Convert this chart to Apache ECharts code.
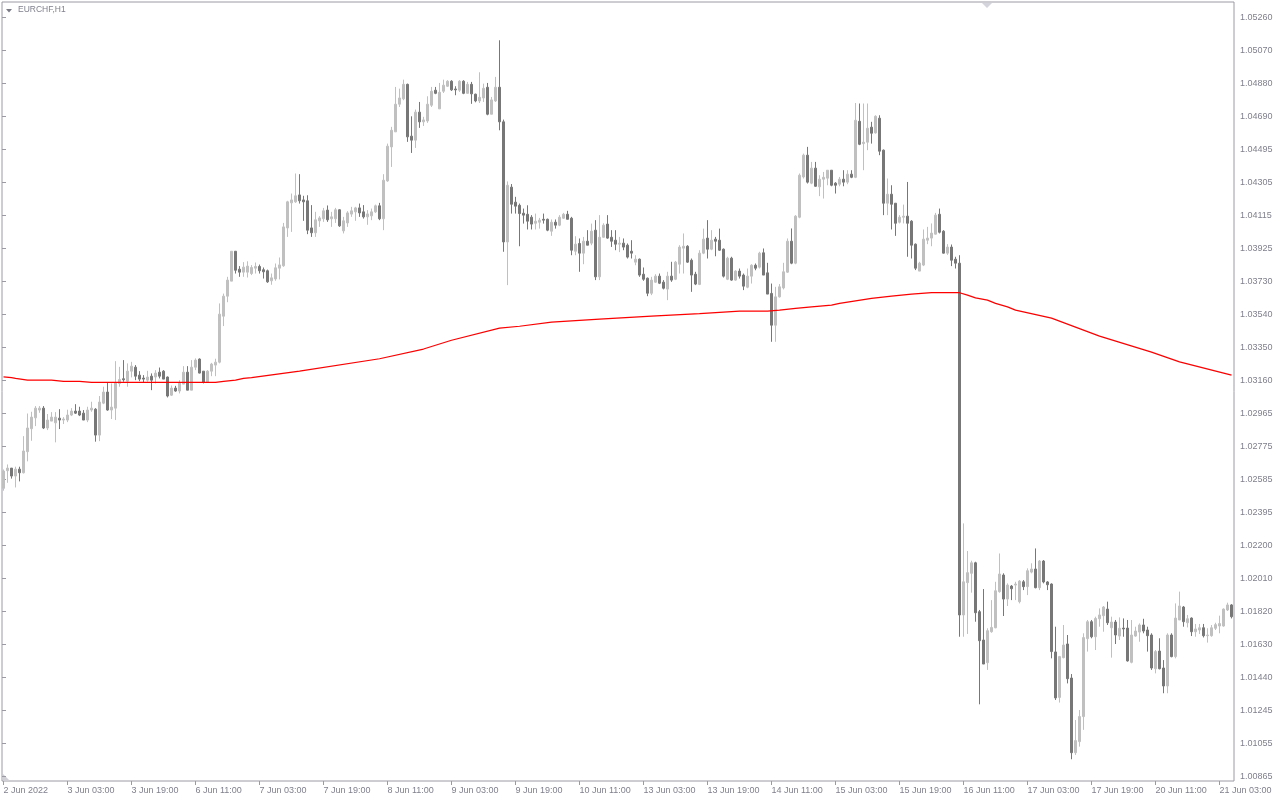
<!DOCTYPE html>
<html><head><meta charset="utf-8">
<script src="https://cdn.jsdelivr.net/npm/echarts@6.0.0/dist/echarts.min.js"></script>
<style>html,body{margin:0;padding:0;background:#fff}#c{width:1280px;height:800px}</style>
</head><body><div id="c"></div>
<script>
const symbolName = 'EURCHF,H1';
const tickLabels = ['2 Jun 2022','3 Jun 03:00','3 Jun 19:00','6 Jun 11:00','7 Jun 03:00','7 Jun 19:00','8 Jun 11:00','9 Jun 03:00','9 Jun 19:00','10 Jun 11:00','13 Jun 03:00','13 Jun 19:00','14 Jun 11:00','15 Jun 03:00','15 Jun 19:00','16 Jun 11:00','17 Jun 03:00','17 Jun 19:00','20 Jun 11:00','21 Jun 03:00'];
const yTickLabels = ['1.00865','1.01055','1.01245','1.01440','1.01630','1.01820','1.02010','1.02200','1.02395','1.02585','1.02775','1.02965','1.03160','1.03350','1.03540','1.03730','1.03925','1.04115','1.04305','1.04495','1.04690','1.04880','1.05070','1.05260'];

const opens = [
1.02534,1.02636,1.02651,1.02605,1.02645,1.02624,1.02746,1.02879,1.02942,1.02987,
1.02998,1.02883,1.02923,1.02913,1.02940,1.02929,1.02929,1.02958,1.02981,1.02981,
1.02969,1.02929,1.02987,1.02992,1.02842,1.03027,1.03091,1.02987,1.02998,1.03141,
1.03168,1.03154,1.03212,1.03235,1.03189,1.03172,1.03160,1.03183,1.03178,1.03206,
1.03212,1.03178,1.03073,1.03114,1.03097,1.03137,1.03206,1.03102,1.03235,1.03282,
1.03212,1.03149,1.03212,1.03247,1.03264,1.03530,1.03646,1.03733,1.03906,1.03802,
1.03785,1.03785,1.03777,1.03808,1.03818,1.03799,1.03793,1.03735,1.03746,1.03808,
1.03822,1.04041,1.04186,1.04192,1.04232,1.04203,1.04198,1.04041,1.04013,1.04082,
1.04094,1.04144,1.04094,1.04094,1.04146,1.04024,1.04070,1.04121,1.04134,1.04157,
1.04134,1.04105,1.04111,1.04134,1.04169,1.04094,1.04313,1.04510,1.04597,1.04757,
1.04788,1.04872,1.04572,1.04549,1.04711,1.04655,1.04660,1.04751,1.04838,1.04730,
1.04832,1.04861,1.04890,1.04845,1.04838,1.04890,1.04820,1.04872,1.04815,1.04776,
1.04793,1.04855,1.04699,1.04776,1.04855,1.04655,1.03960,1.04277,1.04190,1.04172,
1.04126,1.04120,1.04103,1.04068,1.04074,1.04091,1.04091,1.04022,1.04074,1.04057,
1.04097,1.04120,1.04097,1.03906,1.03951,1.03895,1.03964,1.03953,1.04028,1.03758,
1.03987,1.04063,1.03987,1.03970,1.03947,1.03953,1.03941,1.03906,1.03843,1.03860,
1.03773,1.03750,1.03663,1.03727,1.03762,1.03727,1.03687,1.03762,1.03744,1.03831,
1.03924,1.03935,1.03854,1.03773,1.03714,1.03895,1.03982,1.03918,1.03976,1.03970,
1.03918,1.03744,1.03866,1.03739,1.03791,1.03768,1.03698,1.03762,1.03825,1.03814,
1.03897,1.03781,1.03662,1.03478,1.03642,1.03694,1.03785,1.03964,1.03837,1.04103,
1.04336,1.04462,1.04300,1.04387,1.04279,1.04323,1.04329,1.04375,1.04300,1.04294,
1.04323,1.04306,1.04352,1.04334,1.04658,1.04529,1.04537,1.04624,1.04591,1.04676,
1.04491,1.04184,1.04236,1.04184,1.04074,1.04103,1.04109,1.04080,1.03947,1.03791,
1.03826,1.03970,1.03982,1.04005,1.04120,1.04022,1.03895,1.03930,1.03860,1.03837,
1.01801,1.01988,1.02042,1.02103,1.01820,1.01656,1.01525,1.01704,1.01727,1.01936,
1.02032,1.01893,1.01968,1.01974,1.01878,1.01993,1.01965,1.02049,1.02067,1.01959,
1.02113,1.01992,1.01980,1.01587,1.01324,1.01554,1.01633,1.01436,1.01004,1.01068,
1.01213,1.01664,1.01762,1.01675,1.01779,1.01797,1.01835,1.01727,1.01760,1.01679,
1.01725,1.01725,1.01527,1.01679,1.01702,1.01743,1.01714,1.01685,1.01490,1.01592,
1.01494,1.01390,1.01685,1.01560,1.01772,1.01847,1.01756,1.01783,1.01704,1.01714,
1.01727,1.01681,1.01681,1.01724,1.01737,1.01737,1.01830,1.01859];

const closes = [
1.02634,1.02651,1.02605,1.02645,1.02624,1.02750,1.02883,1.02946,1.02998,1.02998,
1.02883,1.02929,1.02946,1.02946,1.02929,1.02935,1.02958,1.02981,1.02969,1.02958,
1.02929,1.02987,1.02998,1.02842,1.03033,1.03091,1.02987,1.03004,1.03145,1.03164,
1.03162,1.03212,1.03241,1.03183,1.03166,1.03166,1.03178,1.03160,1.03201,1.03183,
1.03166,1.03068,1.03114,1.03097,1.03143,1.03206,1.03102,1.03235,1.03276,1.03201,
1.03149,1.03212,1.03253,1.03264,1.03542,1.03646,1.03739,1.03906,1.03796,1.03785,
1.03814,1.03820,1.03812,1.03818,1.03793,1.03787,1.03729,1.03752,1.03810,1.03827,
1.04047,1.04192,1.04203,1.04227,1.04198,1.04192,1.04028,1.04013,1.04088,1.04099,
1.04140,1.04088,1.04105,1.04146,1.04053,1.04082,1.04128,1.04140,1.04157,1.04128,
1.04105,1.04122,1.04134,1.04169,1.04094,1.04317,1.04514,1.04606,1.04757,1.04793,
1.04872,1.04568,1.04549,1.04711,1.04655,1.04666,1.04757,1.04832,1.04820,1.04826,
1.04867,1.04890,1.04840,1.04840,1.04890,1.04820,1.04872,1.04817,1.04776,1.04797,
1.04849,1.04699,1.04782,1.04855,1.04655,1.03960,1.04288,1.04178,1.04167,1.04124,
1.04115,1.04080,1.04063,1.04080,1.04086,1.04086,1.04028,1.04074,1.04057,1.04103,
1.04120,1.04091,1.03912,1.03947,1.03895,1.03964,1.03941,1.04022,1.03758,1.03987,
1.04057,1.03982,1.03964,1.03947,1.03953,1.03930,1.03872,1.03895,1.03860,1.03768,
1.03744,1.03663,1.03739,1.03762,1.03721,1.03692,1.03762,1.03739,1.03843,1.03930,
1.03935,1.03843,1.03768,1.03716,1.03895,1.03976,1.03918,1.03970,1.03964,1.03912,
1.03762,1.03866,1.03739,1.03791,1.03762,1.03704,1.03762,1.03825,1.03808,1.03895,
1.03768,1.03658,1.03478,1.03642,1.03700,1.03787,1.03964,1.03837,1.04109,1.04346,
1.04462,1.04306,1.04387,1.04282,1.04323,1.04334,1.04375,1.04288,1.04288,1.04323,
1.04306,1.04352,1.04334,1.04664,1.04525,1.04537,1.04618,1.04589,1.04687,1.04485,
1.04184,1.04236,1.04178,1.04068,1.04103,1.04109,1.04068,1.03941,1.03808,1.03837,
1.03976,1.03982,1.04011,1.04115,1.04016,1.03895,1.03930,1.03854,1.03837,1.01801,
1.01993,1.02046,1.02103,1.01814,1.01652,1.01517,1.01710,1.01729,1.01941,1.02038,
1.01893,1.01974,1.01953,1.01980,1.01997,1.01965,1.02057,1.02067,1.01959,1.02113,
1.01992,1.01976,1.01589,1.01321,1.01560,1.01627,1.01432,1.01004,1.01074,1.01213,
1.01670,1.01762,1.01675,1.01781,1.01801,1.01847,1.01756,1.01760,1.01685,1.01724,
1.01720,1.01535,1.01685,1.01708,1.01743,1.01708,1.01681,1.01494,1.01589,1.01490,
1.01390,1.01685,1.01560,1.01783,1.01853,1.01762,1.01779,1.01704,1.01720,1.01727,
1.01681,1.01685,1.01727,1.01745,1.01751,1.01835,1.01859,1.01791];

const lows = [
1.02520,1.02566,1.02590,1.02539,1.02574,1.02620,1.02690,1.02809,1.02894,1.02971,
1.02877,1.02871,1.02923,1.02800,1.02877,1.02906,1.02917,1.02952,1.02964,1.02952,
1.02929,1.02917,1.02977,1.02804,1.02807,1.03021,1.02983,1.02935,1.02929,1.03122,
1.03151,1.03122,1.03176,1.03160,1.03154,1.03147,1.03151,1.03102,1.03141,1.03170,
1.03166,1.03060,1.03068,1.03093,1.03083,1.03137,1.03102,1.03102,1.03218,1.03199,
1.03141,1.03145,1.03183,1.03183,1.03257,1.03473,1.03611,1.03733,1.03777,1.03758,
1.03758,1.03754,1.03768,1.03777,1.03777,1.03748,1.03723,1.03712,1.03735,1.03743,
1.03816,1.03989,1.04018,1.04186,1.04182,1.04082,1.04005,1.03989,1.03989,1.04047,
1.04076,1.04076,1.04047,1.04070,1.04047,1.04009,1.04047,1.04105,1.04082,1.04105,
1.04095,1.04059,1.04086,1.04128,1.04086,1.04028,1.04308,1.04394,1.04597,1.04741,
1.04780,1.04539,1.04475,1.04504,1.04620,1.04631,1.04649,1.04741,1.04815,1.04730,
1.04822,1.04857,1.04834,1.04809,1.04828,1.04815,1.04818,1.04759,1.04768,1.04764,
1.04770,1.04693,1.04699,1.04770,1.04606,1.03903,1.03710,1.04124,1.04124,1.03935,
1.04066,1.04032,1.04032,1.04032,1.04037,1.04066,1.04022,1.03995,1.04037,1.04051,
1.04093,1.04091,1.03883,1.03883,1.03787,1.03831,1.03941,1.03941,1.03739,1.03739,
1.03984,1.03978,1.03931,1.03912,1.03901,1.03912,1.03864,1.03864,1.03825,1.03758,
1.03735,1.03646,1.03652,1.03723,1.03716,1.03685,1.03623,1.03729,1.03739,1.03777,
1.03777,1.03839,1.03671,1.03710,1.03710,1.03889,1.03864,1.03912,1.03877,1.03908,
1.03754,1.03739,1.03735,1.03735,1.03748,1.03681,1.03692,1.03719,1.03796,1.03806,
1.03768,1.03658,1.03382,1.03382,1.03638,1.03685,1.03781,1.03831,1.03831,1.04097,
1.04327,1.04298,1.04294,1.04279,1.04225,1.04211,1.04288,1.04282,1.04240,1.04282,
1.04282,1.04294,1.04329,1.04329,1.04520,1.04375,1.04491,1.04529,1.04587,1.04462,
1.04115,1.04115,1.04032,1.03995,1.04067,1.04067,1.03874,1.03864,1.03797,1.03791,
1.03820,1.03947,1.03935,1.04003,1.04009,1.03893,1.03885,1.03820,1.03806,1.01675,
1.01675,1.01691,1.01930,1.01762,1.01284,1.01517,1.01483,1.01698,1.01724,1.01930,
1.01795,1.01853,1.01887,1.01887,1.01868,1.01945,1.01916,1.02042,1.01955,1.01945,
1.01984,1.01945,1.01550,1.01309,1.01294,1.01550,1.01405,1.00966,1.00991,1.01039,
1.01136,1.01589,1.01666,1.01598,1.01733,1.01704,1.01743,1.01554,1.01633,1.01656,
1.01675,1.01531,1.01521,1.01675,1.01646,1.01695,1.01589,1.01483,1.01463,1.01486,
1.01348,1.01348,1.01556,1.01550,1.01772,1.01733,1.01729,1.01679,1.01675,1.01691,
1.01671,1.01641,1.01675,1.01714,1.01695,1.01733,1.01824,1.01781];

const highs = [
1.02643,1.02672,1.02651,1.02659,1.02659,1.02836,1.02967,1.02977,1.03010,1.03010,
1.03010,1.02964,1.02975,1.02975,1.02992,1.02946,1.02989,1.02998,1.03021,1.03006,
1.02987,1.03006,1.03035,1.02998,1.03068,1.03122,1.03145,1.03141,1.03270,1.03237,
1.03276,1.03257,1.03266,1.03247,1.03212,1.03189,1.03214,1.03199,1.03218,1.03233,
1.03218,1.03181,1.03129,1.03127,1.03160,1.03241,1.03241,1.03276,1.03286,1.03286,
1.03212,1.03218,1.03260,1.03284,1.03604,1.03661,1.03758,1.03906,1.03906,1.03820,
1.03843,1.03848,1.03826,1.03841,1.03829,1.03812,1.03800,1.03777,1.03835,1.03870,
1.04070,1.04198,1.04240,1.04356,1.04352,1.04227,1.04230,1.04173,1.04134,1.04109,
1.04157,1.04171,1.04134,1.04157,1.04149,1.04105,1.04138,1.04163,1.04163,1.04182,
1.04173,1.04144,1.04153,1.04176,1.04186,1.04352,1.04529,1.04626,1.04857,1.04847,
1.04899,1.04876,1.04687,1.04726,1.04770,1.04684,1.04803,1.04857,1.04857,1.04880,
1.04899,1.04896,1.04896,1.04861,1.04896,1.04896,1.04886,1.04886,1.04818,1.04942,
1.04876,1.04880,1.04799,1.04915,1.05127,1.04668,1.04310,1.04295,1.04221,1.04182,
1.04153,1.04172,1.04115,1.04124,1.04099,1.04124,1.04095,1.04090,1.04090,1.04115,
1.04128,1.04140,1.04105,1.03993,1.03980,1.03989,1.04028,1.04066,1.04086,1.04115,
1.04068,1.04115,1.04028,1.04028,1.03989,1.03980,1.03951,1.03970,1.03883,1.03864,
1.03812,1.03754,1.03758,1.03773,1.03777,1.03739,1.03787,1.03845,1.03850,1.03941,
1.04009,1.03941,1.03864,1.03787,1.03912,1.04037,1.04086,1.04028,1.03989,1.04037,
1.03922,1.03874,1.03874,1.03796,1.03806,1.03777,1.03806,1.03831,1.03835,1.03903,
1.03922,1.03839,1.03719,1.03700,1.03716,1.03839,1.03980,1.04038,1.04115,1.04356,
1.04471,1.04510,1.04423,1.04423,1.04346,1.04365,1.04375,1.04375,1.04306,1.04336,
1.04375,1.04375,1.04375,1.04764,1.04761,1.04761,1.04761,1.04655,1.04693,1.04693,
1.04495,1.04327,1.04288,1.04184,1.04115,1.04176,1.04307,1.04086,1.03951,1.03845,
1.04032,1.04047,1.04067,1.04128,1.04153,1.04028,1.03947,1.03945,1.03874,1.03883,
1.02331,1.02171,1.02115,1.02109,1.01830,1.01951,1.01724,1.01887,1.01993,1.02157,
1.02042,1.01984,1.01974,1.01993,1.02003,1.02003,1.02071,1.02100,1.02186,1.02119,
1.02119,1.01997,1.01984,1.01733,1.01564,1.01743,1.01685,1.01459,1.01193,1.01251,
1.01695,1.01772,1.01772,1.01791,1.01839,1.01853,1.01878,1.01791,1.01772,1.01787,
1.01781,1.01772,1.01772,1.01733,1.01752,1.01779,1.01733,1.01695,1.01598,1.01666,
1.01540,1.01695,1.01695,1.01868,1.01936,1.01853,1.01801,1.01787,1.01749,1.01749,
1.01749,1.01724,1.01743,1.01756,1.01797,1.01839,1.01872,1.01864];

// moving average, read at these bar indices
const maBars = [0,2,3,6,12,15,19,22,53,55,58,60,62,74,94,105,112,124,129,137,149,162,174,184,191,194,198,202,207,209,213,217,222,227,232,238,239,241,243,246,248,251,253,262,274,287,294,307];
const maValues = [1.03179,1.03175,1.03170,1.03160,1.03160,1.03153,1.03153,1.03147,1.03147,1.03153,1.03160,1.03170,1.03175,1.03212,1.03284,1.03340,1.03391,1.03461,1.03472,1.03496,1.03513,1.03530,1.03545,1.03559,1.03559,1.03565,1.03575,1.03584,1.03594,1.03604,1.03619,1.03633,1.03646,1.03658,1.03666,1.03667,1.03666,1.03652,1.03636,1.03623,1.03604,1.03584,1.03565,1.03519,1.03415,1.03322,1.03266,1.03189];

// hourly bar timestamps (weekends skipped), starting 2 Jun 2022 11:00
const MONTHS = ['Jan','Feb','Mar','Apr','May','Jun','Jul','Aug','Sep','Oct','Nov','Dec'];
const categories = [];
let t = Date.UTC(2022, 5, 2, 11);
while (categories.length < opens.length) {
  const d = new Date(t);
  const wd = d.getUTCDay();
  if (wd !== 0 && wd !== 6) {
    categories.push(d.getUTCDate() + ' ' + MONTHS[d.getUTCMonth()] + ' ' + String(d.getUTCHours()).padStart(2, '0') + ':00');
  }
  t += 3600000;
}

const candleData = opens.map((o, i) => [o, closes[i], lows[i], highs[i]]);
const maData = new Array(opens.length).fill(null);
maBars.forEach((b, j) => { maData[b] = maValues[j]; });

const FRAME = '#9a9aa4';
const TXT = '#80808e';
const FONT = 'Liberation Sans, Arial, sans-serif';

const chart = echarts.init(document.getElementById('c'), null, {renderer: 'canvas'});
chart.setOption({
  animation: false,
  backgroundColor: '#ffffff',
  grid: [
    {left: 2, top: 2, width: 1232, height: 779, show: true, borderColor: FRAME, borderWidth: 1, backgroundColor: 'transparent'},
    {left: 3.5, top: 2, width: 1228, height: 779, show: false},
    {left: 2, top: 17.3, width: 1232, height: 759.4, show: false}
  ],
  xAxis: [
    {type: 'value', gridIndex: 0, show: false, min: 0, max: 1},
    {type: 'category', gridIndex: 1, data: categories, boundaryGap: false,
      axisLine: {show: false},
      axisTick: {show: true, interval: (i) => i % 16 === 0, length: 4, lineStyle: {color: FRAME}},
      axisLabel: {show: true, interval: (i) => i % 16 === 0,
        formatter: (v, i) => (i % 16 === 0 ? (tickLabels[i / 16] || '') : ''),
        align: 'left', margin: 5, color: TXT, fontFamily: FONT, fontSize: 9},
      splitLine: {show: false}},
    {type: 'value', gridIndex: 2, show: false, min: 0, max: 1}
  ],
  yAxis: [
    {type: 'value', gridIndex: 0, show: false, min: 0, max: 1},
    {type: 'value', gridIndex: 1, show: false, min: 1.008401, max: 1.053485},
    {type: 'value', gridIndex: 2, position: 'right', min: 0, max: 23, interval: 1,
      axisLine: {show: false},
      axisTick: {show: true, length: 4, lineStyle: {color: FRAME}},
      axisLabel: {formatter: (v) => yTickLabels[Math.round(v)] || '', margin: 6, color: TXT, fontFamily: FONT, fontSize: 9},
      splitLine: {show: false}}
  ],
  series: [
    {type: 'candlestick', xAxisIndex: 1, yAxisIndex: 1, data: candleData, barWidth: 2,
      itemStyle: {color: '#c0c0c0', color0: '#777777', borderColor: '#c0c0c0', borderColor0: '#777777', borderWidth: 1}},
    {type: 'line', xAxisIndex: 1, yAxisIndex: 1, data: maData, connectNulls: true, showSymbol: false,
      lineStyle: {color: '#ff0000', width: 1.2}, z: 3}
  ],
  graphic: [
    {type: 'polygon', shape: {points: [[6, 9], [12, 9], [9, 12.5]]}, style: {fill: '#7a7a86'}},
    {type: 'text', left: 18, top: 5, style: {text: symbolName, fill: TXT, font: '8.5px ' + FONT}},
    {type: 'polygon', shape: {points: [[982, 3], [992, 3], [987, 8]]}, style: {fill: '#d4d4dc'}},
    {type: 'polygon', shape: {points: [[3, 774], [3, 781], [10, 781]]}, style: {fill: '#d0d0d6'}}
  ]
});
</script>
</body></html>
